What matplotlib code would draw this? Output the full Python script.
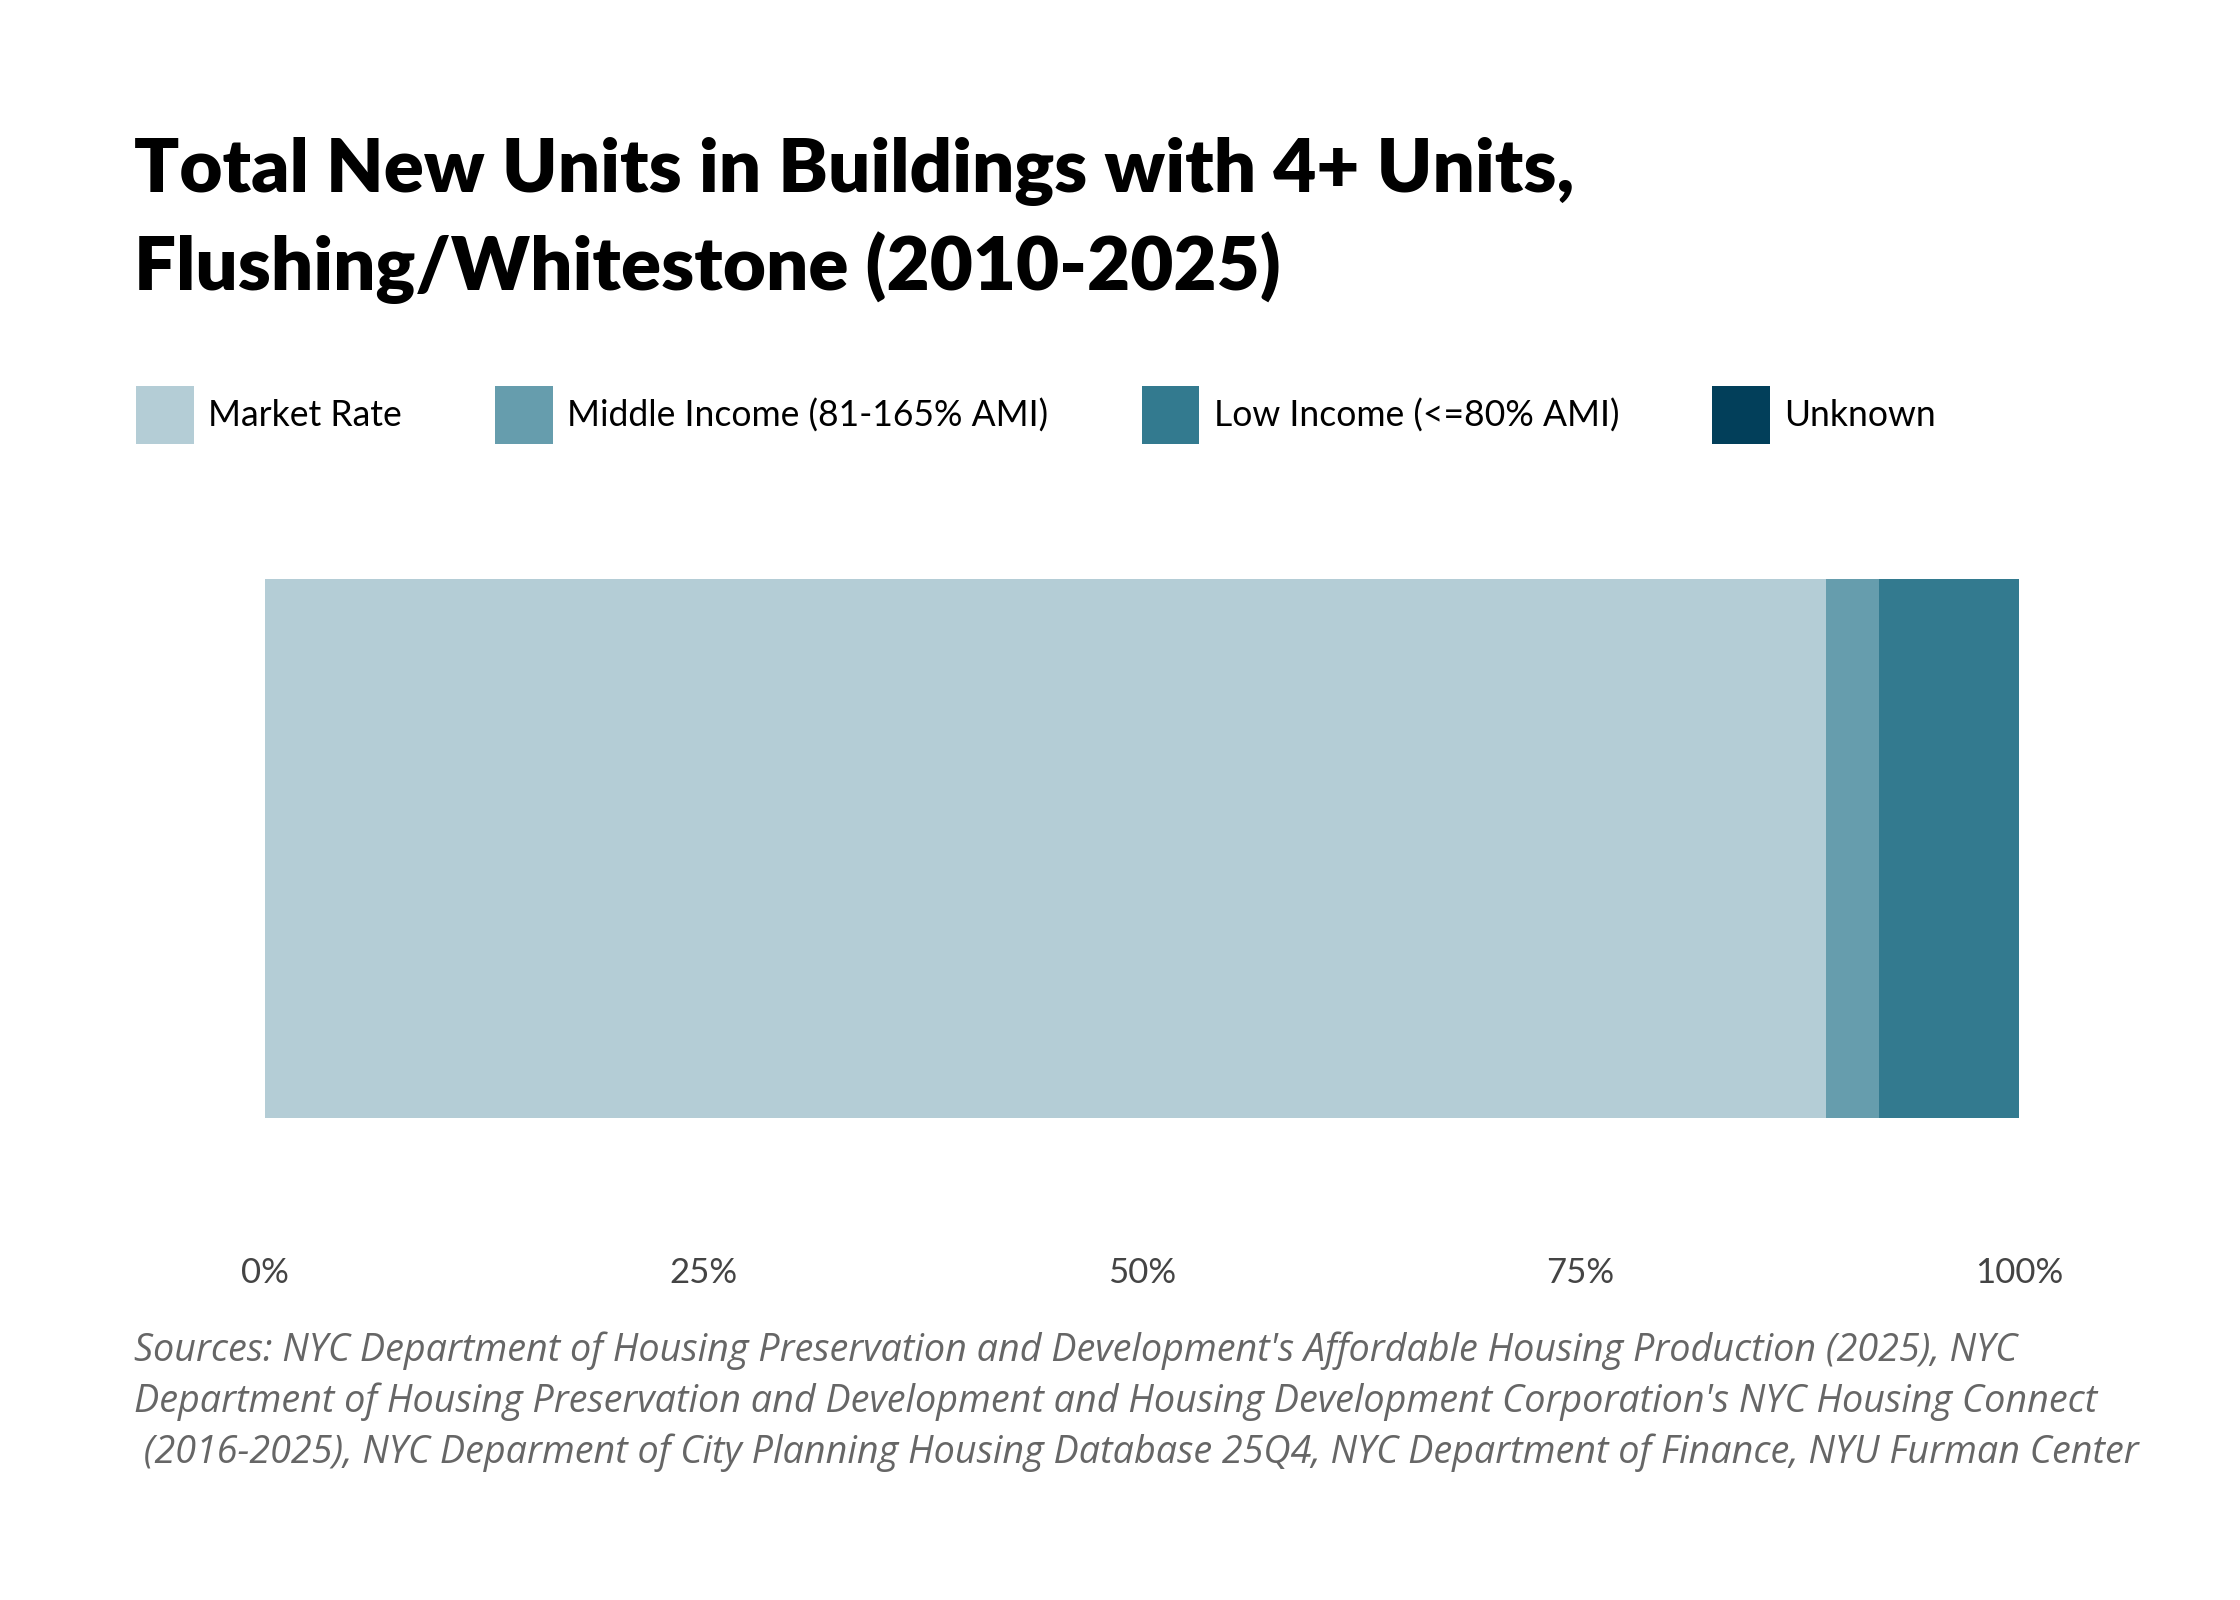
import matplotlib
matplotlib.use("Agg")
import matplotlib.pyplot as plt
from matplotlib.patches import Patch
from matplotlib.ticker import PercentFormatter

categories = ["Market Rate", "Middle Income (81-165% AMI)", "Low Income (<=80% AMI)", "Unknown"]
shares = [0.890, 0.030, 0.080, 0.0]
colors = ["#b4cdd6", "#669dad", "#337a8f", "#023f5a"]
tick_values = [0, 0.25, 0.5, 0.75, 1.0]

title = "Total New Units in Buildings with 4+ Units,\nFlushing/Whitestone (2010-2025)"
source = ("Sources: NYC Department of Housing Preservation and Development's Affordable Housing Production (2025), NYC\n"
          "Department of Housing Preservation and Development and Housing Development Corporation's NYC Housing Connect\n"
          " (2016-2025), NYC Deparment of City Planning Housing Database 25Q4, NYC Department of Finance, NYU Furman Center")

W, H = 2240, 1600
fig = plt.figure(figsize=(11.2, 8), dpi=200)
fig.patch.set_facecolor("white")

ax = fig.add_axes([265 / W, 1 - 1118 / H, (2019 - 265) / W, (1118 - 579) / H])
left = 0.0
for cat, val, col in zip(categories, shares, colors):
    ax.barh(0, val, left=left, height=1.0, color=col, label=cat, linewidth=0)
    left += val
ax.set_xlim(0, 1)
ax.set_ylim(-0.5, 0.5)
ax.set_yticks([])
ax.set_xticks(tick_values)
ax.xaxis.set_major_formatter(PercentFormatter(1.0, decimals=0))
ax.tick_params(axis="x", length=0, pad=50, labelsize=12.5, labelcolor="#444444")
for lbl in ax.get_xticklabels():
    lbl.set_family("Lato")
for s in ax.spines.values():
    s.set_visible(False)

fig.text(134 / W, 1 - 137 / H, title, ha="left", va="top", family="Lato",
         weight="heavy", fontsize=26.8, color="black", linespacing=1.43)

handles = [Patch(facecolor=c, edgecolor="none") for c in colors]
leg = fig.legend(handles, categories, loc="center left", bbox_to_anchor=(136 / W, 1 - 415 / H),
                 ncol=4, frameon=False, prop={"family": "Lato", "size": 12.8},
                 handlelength=1.63, handleheight=2.1, handletextpad=0.4,
                 columnspacing=2.62, borderaxespad=0, borderpad=0)

fig.text(134 / W, 1 - 1331 / H, source, ha="left", va="top", family="Open Sans",
         style="italic", fontsize=13.6, color="#666666", linespacing=1.43)

fig.savefig("out.png", dpi=200, facecolor="white")
